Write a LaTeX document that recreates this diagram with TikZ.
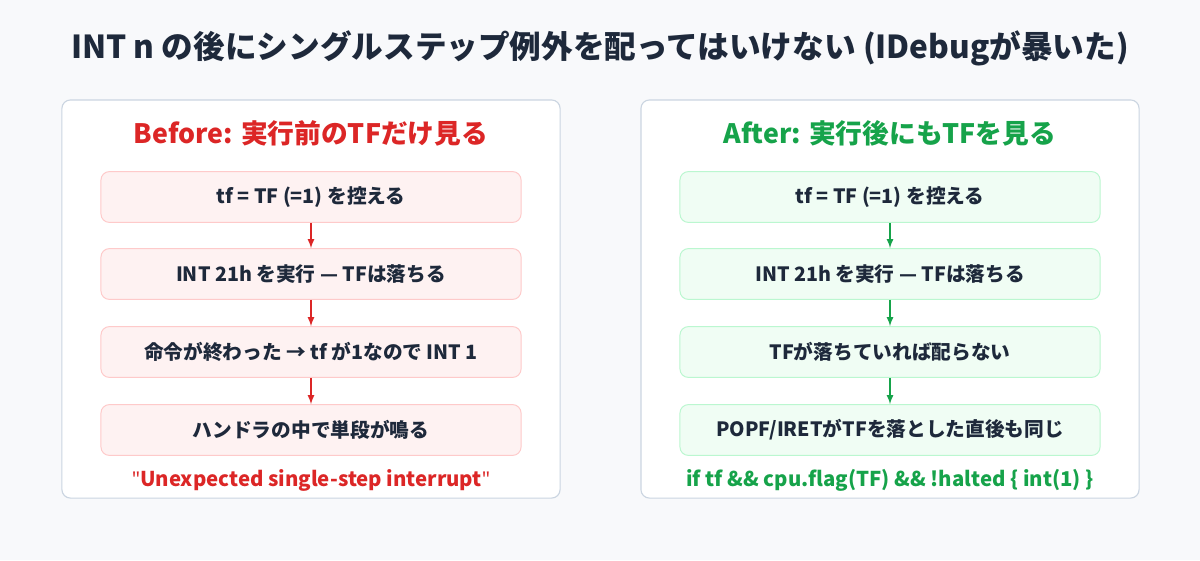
\documentclass[tikz,border=0pt]{standalone}
\usepackage{fontspec}
\setmainfont{Noto Sans CJK JP}
\newfontfamily\qfont{Noto Sans}
\newcommand{\dq}{{\qfont\bfseries\symbol{34}}}
\usetikzlibrary{positioning}
\definecolor{bgcol}{HTML}{F8F9FB}
\definecolor{ink}{HTML}{1E293B}
\definecolor{panelline}{HTML}{CBD5E1}
\definecolor{redtxt}{HTML}{DC2626}
\definecolor{redfill}{HTML}{FEF2F2}
\definecolor{redline}{HTML}{FECACA}
\definecolor{grntxt}{HTML}{16A34A}
\definecolor{grnfill}{HTML}{F0FDF4}
\definecolor{grnline}{HTML}{BBF7D0}
\begin{document}
\begin{tikzpicture}[x=0.025cm, y=-0.025cm,
    panel/.style={draw=panelline, fill=white, rounded corners=6pt, line width=0.8pt, minimum width=12.45cm, minimum height=9.95cm},
    step/.style={draw=#1line, fill=#1fill, rounded corners=6pt, line width=0.7pt, minimum width=10.5cm, minimum height=1.27cm, font=\fontsize{14}{16}\selectfont\bfseries, text=ink},
    head/.style={font=\fontsize{19}{21}\selectfont\bfseries},
    arr/.style={-latex, line width=1.2pt}
  ]
    \fill[bgcol] (0,0) rectangle (1200,560);
    \node[font=\fontsize{22.5}{25}\selectfont\bfseries, text=ink] (title) at (600,48) {INT n の後にシングルステップ例外を配ってはいけない (IDebugが暴いた)};

    % before
    \node[panel] (lpanel) at (311,299) {};
    \node[head, text=redtxt] (lhead) at (311,133) {Before: 実行前のTFだけ見る};
    \node[step=red] (l1) at (311,197) {tf = TF (=1) を控える};
    \node[step=red] (l2) at (311,274) {INT 21h を実行 — TFは落ちる};
    \node[step=red] (l3) at (311,352) {命令が終わった → tf が1なので INT 1};
    \node[step=red] (l4) at (311,430) {ハンドラの中で単段が鳴る};
    \node[font=\fontsize{14.5}{16}\selectfont\bfseries, text=redtxt] (lfoot) at (311,480) {\dq Unexpected single-step interrupt\dq};
    \draw[arr, redtxt] (l1) -- (l2);
    \draw[arr, redtxt] (l2) -- (l3);
    \draw[arr, redtxt] (l3) -- (l4);

    % after
    \node[panel] (rpanel) at (890,299) {};
    \node[head, text=grntxt] (rhead) at (890,133) {After: 実行後にもTFを見る};
    \node[step=grn] (r1) at (890,197) {tf = TF (=1) を控える};
    \node[step=grn] (r2) at (890,274) {INT 21h を実行 — TFは落ちる};
    \node[step=grn] (r3) at (890,352) {TFが落ちていれば配らない};
    \node[step=grn] (r4) at (890,430) {POPF/IRETがTFを落とした直後も同じ};
    \node[font=\fontsize{14.5}{16}\selectfont\bfseries, text=grntxt] (rfoot) at (890,480) {if tf \&\& cpu.flag(TF) \&\& !halted \{ int(1) \}};
    \draw[arr, grntxt] (r1) -- (r2);
    \draw[arr, grntxt] (r2) -- (r3);
    \draw[arr, grntxt] (r3) -- (r4);
\end{tikzpicture}
\end{document}
